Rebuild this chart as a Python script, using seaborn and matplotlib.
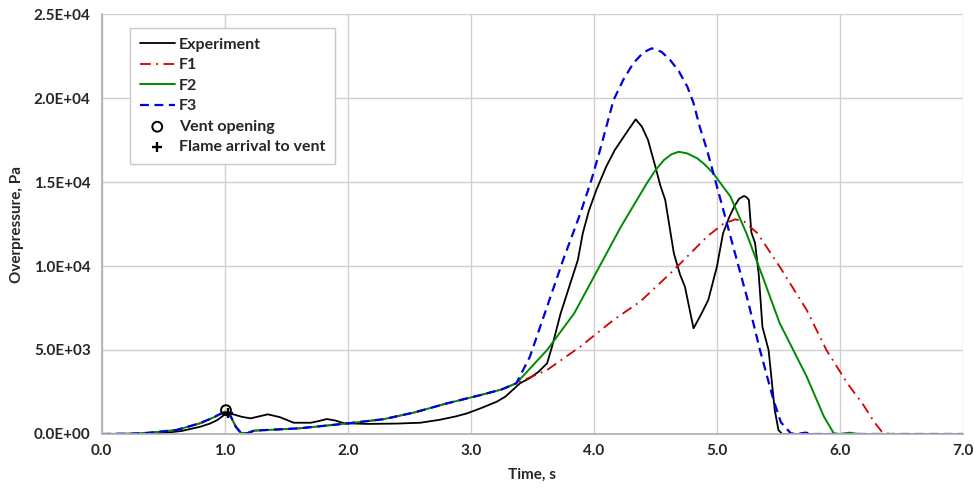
import numpy as np
import pandas as pd
import seaborn as sns
import matplotlib.pyplot as plt
from matplotlib.ticker import FuncFormatter, MultipleLocator

# Experiment (black)
exp_t = [0, 0.3, 0.45, 0.53, 0.65, 0.8, 0.88, 0.94, 0.98, 1.01, 1.04, 1.07, 1.14, 1.21, 1.28,
         1.35, 1.45, 1.56, 1.70, 1.77, 1.83, 1.90, 1.97, 2.16, 2.4, 2.59, 2.75, 2.88, 2.97, 3.08,
         3.21, 3.28, 3.34, 3.40, 3.48, 3.55, 3.62, 3.66, 3.73, 3.80, 3.87, 3.91, 3.96, 4.02, 4.10,
         4.17, 4.28, 4.34, 4.39, 4.44, 4.50, 4.54, 4.58, 4.65, 4.70, 4.74, 4.81, 4.87, 4.93, 5.00,
         5.05, 5.10, 5.14, 5.18, 5.22, 5.24, 5.26, 5.28, 5.31, 5.34, 5.37, 5.42, 5.47, 5.50, 5.53,
         5.7, 6.0, 6.5, 7.0]
exp_p = [0, 0, 30, 80, 180, 430, 620, 830, 1050, 1230, 1200, 1170, 1020, 930, 1050,
         1170, 1000, 670, 670, 780, 890, 800, 640, 600, 620, 670, 850, 1050, 1230, 1530,
         1920, 2220, 2620, 3020, 3330, 3700, 4210, 5200, 7180, 8770, 10360, 11950, 13300, 14520, 15910,
         16900, 18100, 18730, 18300, 17500, 15910, 14800, 13930, 10760, 9500, 8770, 6290, 7100, 7980, 9960,
         11950, 12900, 13530, 14000, 14170, 14100, 13930, 12000, 11370, 9500, 6370, 5000, 1430, 240, 0,
         0, 0, 0, 0]

# simulations share the same curve up to ~3.37 s
common_t = [0, 0.25, 0.40, 0.61, 0.80, 0.91, 1.00, 1.03, 1.05, 1.09, 1.13, 1.18, 1.24, 1.40,
            1.61, 1.80, 2.01, 2.29, 2.54, 2.81, 3.08, 3.25, 3.37]
common_p = [0, 20, 80, 240, 640, 990, 1330, 1250, 1030, 430, 80, 40, 200, 260,
            340, 480, 640, 880, 1280, 1830, 2320, 2650, 3020]

f1_t = common_t + [3.62, 3.89, 4.16, 4.38, 4.65, 4.92, 5.05, 5.15, 5.22, 5.33, 5.51, 5.73,
                   5.89, 6.06, 6.19, 6.28, 6.34, 6.40, 7.0]
f1_p = common_p + [3810, 5200, 6790, 7900, 9760, 11750, 12500, 12780, 12650, 11950, 9960, 7380,
                   5000, 3020, 1730, 700, 140, 0, 0]

f2_t = common_t + [3.62, 3.84, 4.03, 4.22, 4.43, 4.50, 4.57, 4.63, 4.69, 4.76, 4.84, 4.90,
                   4.97, 5.11, 5.24, 5.38, 5.51, 5.73, 5.87, 5.95, 6.0, 6.08, 6.15, 7.0]
f2_p = common_p + [5000, 7180, 9760, 12340, 14920, 15700, 16310, 16650, 16800, 16700, 16410, 16050,
                   15520, 14130, 11950, 9200, 6600, 3410, 1030, 40, 0, 80, 0, 0]

f3_t = common_t + [3.48, 3.62, 3.75, 3.89, 3.98, 4.05, 4.16, 4.24, 4.32, 4.40, 4.47, 4.55,
                   4.62, 4.69, 4.76, 4.81, 4.86, 4.92, 5.03, 5.14, 5.25, 5.35, 5.46, 5.52,
                   5.60, 5.65, 5.72, 5.78, 7.0]
f3_p = common_p + [4600, 7580, 10360, 13130, 15120, 16900, 19880, 21100, 22060, 22700, 22960, 22750,
                   22260, 21600, 20670, 19700, 18300, 16900, 13930, 10950, 7980, 5000, 2020, 700,
                   40, 0, 80, 0, 0]

vent_t, vent_p = [1.01], [1420]
flame_t, flame_p = [1.03], [1250]

sns.set_theme(style="whitegrid")
plt.rcParams['font.family'] = ['Lato', 'DejaVu Sans']

fig, ax = plt.subplots(figsize=(9.74, 4.92), dpi=100)
fig.subplots_adjust(left=0.1044, right=0.9887, top=0.9715, bottom=0.1179)

sns.lineplot(x=exp_t, y=exp_p, ax=ax, color='black', lw=1.3, label='Experiment')
sns.lineplot(x=f1_t, y=f1_p, ax=ax, color='#d40000', lw=1.3, label='F1')
ax.lines[-1].set_linestyle((0, (6, 3, 1, 3)))
sns.lineplot(x=f2_t, y=f2_p, ax=ax, color='#008a00', lw=1.4, label='F2')
sns.lineplot(x=f3_t, y=f3_p, ax=ax, color='#0000e0', lw=1.6, label='F3')
ax.lines[-1].set_linestyle((0, (4, 2.5)))
sns.scatterplot(x=vent_t, y=vent_p, ax=ax, marker='o', s=50, facecolor='none',
                edgecolor='black', linewidth=1.4, label='Vent opening', zorder=5)
sns.scatterplot(x=flame_t, y=flame_p, ax=ax, marker='+', s=55, color='black',
                linewidth=1.7, label='Flame arrival to vent', zorder=5)

ax.set_xlim(0, 7)
ax.set_ylim(0, 25000)
ax.xaxis.set_major_locator(MultipleLocator(1))
ax.yaxis.set_major_locator(MultipleLocator(5000))
ax.xaxis.set_major_formatter(FuncFormatter(lambda v, _: f"{v:.1f}"))
ax.yaxis.set_major_formatter(FuncFormatter(lambda v, _: f"{v:.1E}"))
ax.grid(True, color='#d0d0d0', lw=1)
for s in ['top', 'right']:
    ax.spines[s].set_visible(False)
for s in ['left', 'bottom']:
    ax.spines[s].set_color('#b0b0b0')
ax.tick_params(axis='y', length=4, color='#b0b0b0', labelsize=11, pad=4)
ax.tick_params(axis='x', length=0, labelsize=11, pad=7)
for lab in ax.get_xticklabels() + ax.get_yticklabels():
    lab.set_fontweight('bold')

ax.set_xlabel('Time, s', fontsize=11, fontweight='bold', labelpad=7)
ax.set_ylabel('Overpressure, Pa', fontsize=11, fontweight='bold', labelpad=7)

leg = ax.legend(loc='upper left', bbox_to_anchor=(0.033, 0.967), borderaxespad=0,
                frameon=True, fancybox=False, edgecolor='#c8c8c8', framealpha=1,
                handlelength=2.2, handletextpad=0.25, labelspacing=0.4, borderpad=0.6,
                prop={'weight': 'bold', 'size': 11.5})
leg.get_frame().set_linewidth(1)

fig.savefig('out.png', dpi=100)
